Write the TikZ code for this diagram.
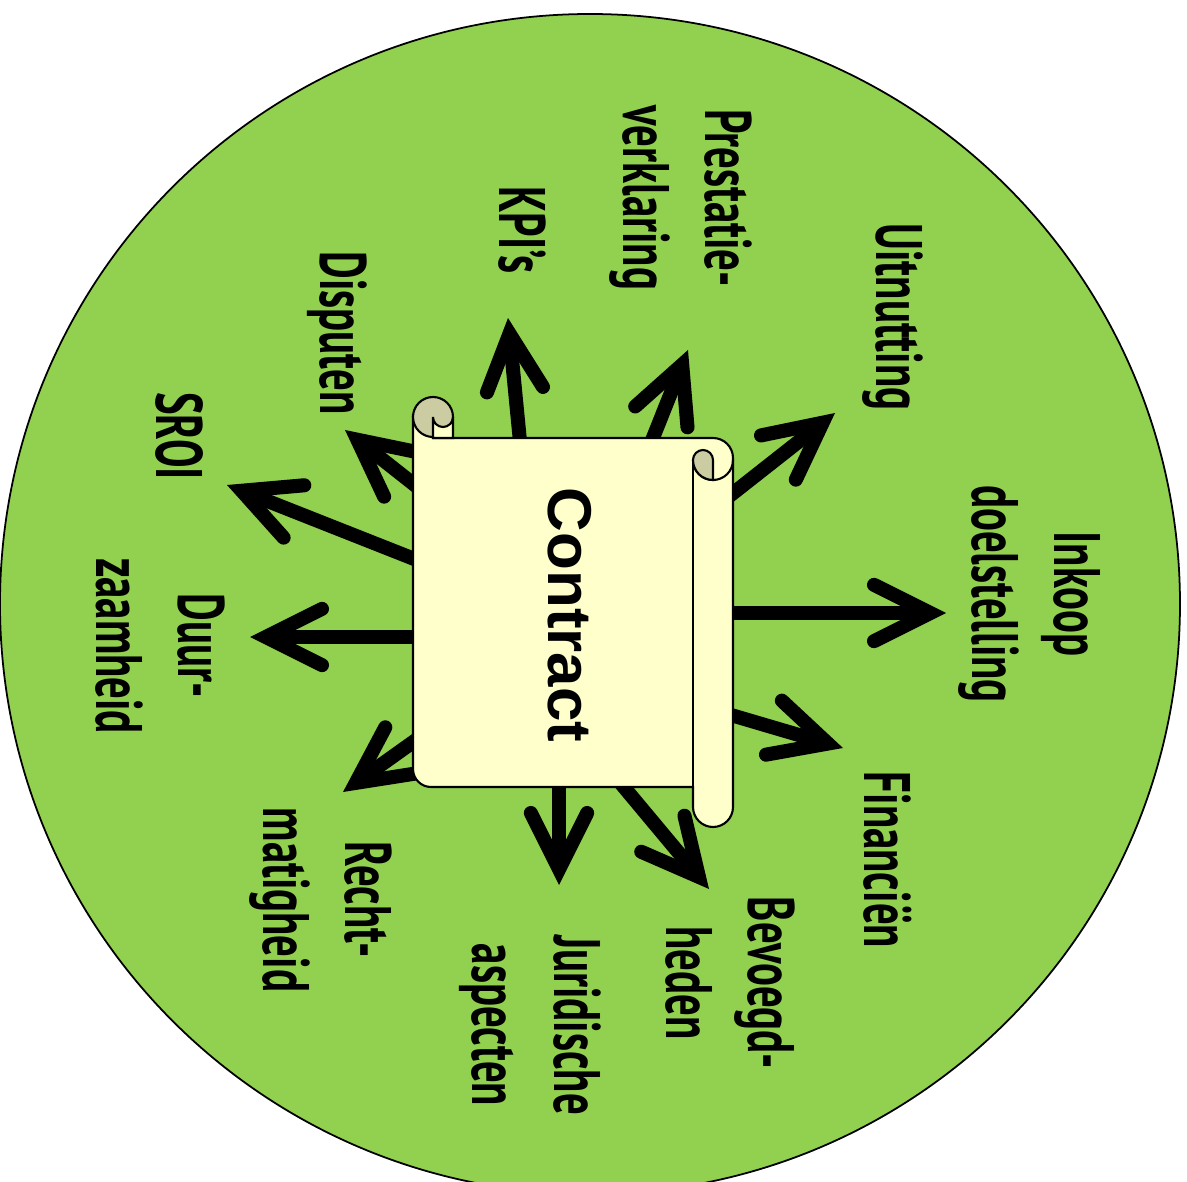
\documentclass[tikz,border=0pt]{standalone}
\usepackage{fontspec}
\usetikzlibrary{arrows.meta}
\newfontfamily\lblfont[FakeStretch=0.65]{PT Sans}
\newfontfamily\contractfont{Liberation Sans}
\definecolor{leafgreen}{RGB}{146,208,80}
\definecolor{scrollcream}{RGB}{255,255,204}
\definecolor{scrolltan}{RGB}{204,204,163}

\begin{document}
\begin{tikzpicture}[x=0.01cm, y=-0.01cm,
    lbl/.style={rotate=-90, align=center, font=\lblfont\bfseries\fontsize{18.7}{23.3}\selectfont},
    arr/.style={line width=4pt, -{Straight Barb[length=16pt,width=16pt,line cap=round,line join=miter]}},
    paper/.style={draw=black, line width=0.6pt, fill=scrollcream},
    curl/.style={draw=black, line width=0.6pt, fill=scrolltan}]
  \useasboundingbox (0,0) rectangle (1187,1182);
  \clip (0,0) rectangle (1187,1182);

  % Green disc
  \draw[fill=leafgreen, line width=0.5pt] (590,604) circle[radius=590];

  % Labels round the scroll
  \node[lbl] (prestatie) at (681,198) {Prestatie-\\verklaring};
  \node[lbl] (kpi) at (522,230) {KPI’s};
  \node[lbl] (uitnutting) at (893,317) {Uitnutting};
  \node[lbl] (disputen) at (337,333) {Disputen};
  \node[lbl] (sroi) at (180,436) {SROI};
  \node[lbl] (inkoop) at (1030,594) {Inkoop\\doelstelling};
  \node[lbl] (duur) at (160,646) {Duur-\\zaamheid};
  \node[lbl] (financien) at (888,860) {Financiën};
  \node[lbl] (recht) at (321,900) {Recht-\\matigheid};
  \node[lbl] (bevoegd) at (730,983) {Bevoegd-\\heden};
  \node[lbl] (juridisch) at (530,1025) {Juridische\\aspecten};

  % Arrow ends
  \coordinate (kpiFrom) at (522,462);     \coordinate (kpiTo) at (508,318);
  \coordinate (prestFrom) at (645,458);   \coordinate (prestTo) at (688,350);
  \coordinate (uitnFrom) at (713,509);    \coordinate (uitnTo) at (835,413);
  \coordinate (dispFrom) at (430,497);    \coordinate (dispTo) at (345,430);
  \coordinate (sroiFrom) at (432,566);    \coordinate (sroiTo) at (227,485);
  \coordinate (duurFrom) at (432,637);    \coordinate (duurTo) at (250,637);
  \coordinate (inkoopFrom) at (713,613);  \coordinate (inkoopTo) at (946,613);
  \coordinate (finFrom) at (714,710);     \coordinate (finTo) at (843,748);
  \coordinate (rechtFrom) at (430,730);   \coordinate (rechtTo) at (343,792);
  \coordinate (jurFrom) at (559,776);     \coordinate (jurTo) at (559,885);
  \coordinate (bevFrom) at (618,780);     \coordinate (bevTo) at (709,889);

  % Arrows out of the contract
  \draw[arr] (kpiFrom) -- (kpiTo);
  \draw[arr] (prestFrom) -- (prestTo);
  \draw[arr] (uitnFrom) -- (uitnTo);
  \draw[arr] (dispFrom) -- (dispTo);
  \draw[arr] (sroiFrom) -- (sroiTo);
  \draw[arr] (duurFrom) -- (duurTo);
  \draw[arr] (inkoopFrom) -- (inkoopTo);
  \draw[arr] (finFrom) -- (finTo);
  \draw[arr] (rechtFrom) -- (rechtTo);
  \draw[arr] (jurFrom) -- (jurTo);
  \draw[arr] (bevFrom) -- (bevTo);

  % Scroll sheet with right roll
  \draw[paper] (413,417) -- (413,769) arc[start angle=180, end angle=90, radius=18]
    -- (693,787) -- (693,807) arc[start angle=180, end angle=0, radius=20]
    -- (733,458) arc[start angle=0, end angle=-90, radius=20] -- (433,438) -- cycle;
  \draw[line width=0.6pt] (693,460) -- (693,807);
  \draw[line width=0.6pt] (693,460) arc[start angle=180, end angle=0, radius=20];
  \draw[curl] (693,460) arc[start angle=180, end angle=360, radius=10]
    -- (713,480) arc[start angle=90, end angle=180, radius=20] -- cycle;

  % Top left roll
  \draw[curl] (433,417) circle[radius=20];
  \draw[paper] (433,417) arc[start angle=180, end angle=0, radius=10]
    -- (453,438) -- (433,438) -- cycle;

  \node[rotate=-90, font=\contractfont\bfseries\fontsize{17.6}{20}\selectfont] (contract) at (570,615) {Contract};
\end{tikzpicture}
\end{document}
